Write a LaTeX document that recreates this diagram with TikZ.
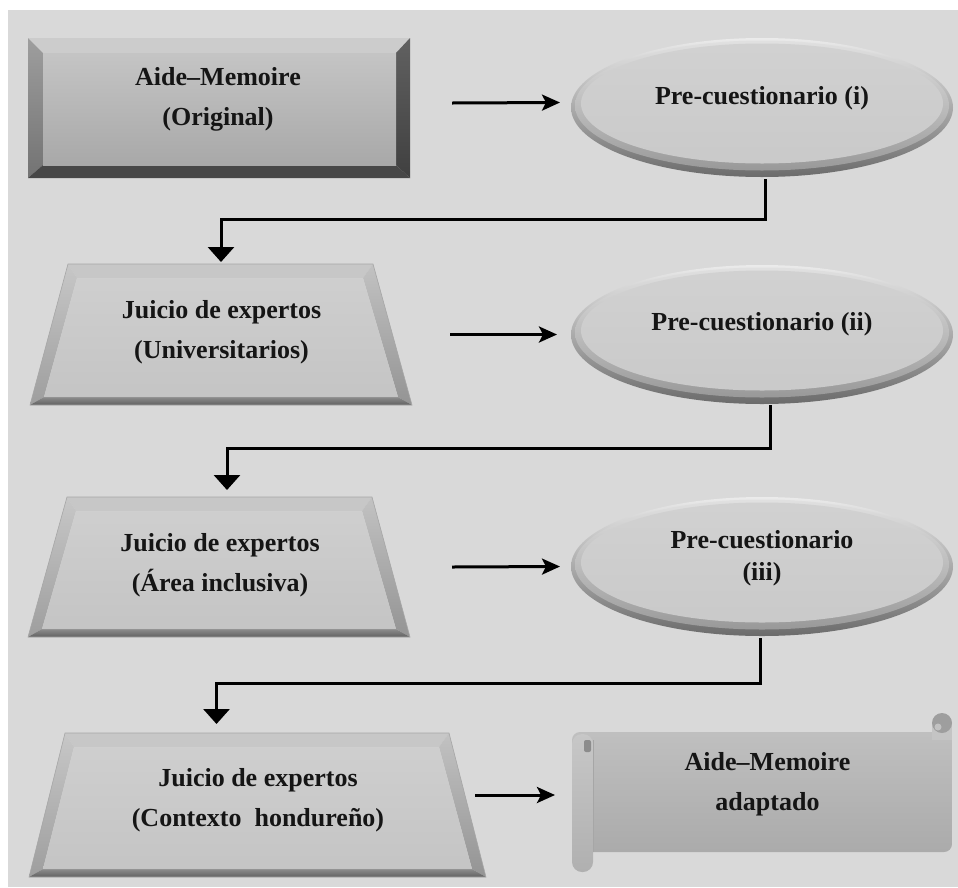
\documentclass[tikz,border=0pt]{standalone}
\usepackage{fontspec}
\setmainfont{Liberation Serif}
\usetikzlibrary{shapes.geometric,arrows.meta,calc}

\definecolor{panel}{HTML}{D9D9D9}
\definecolor{inktext}{HTML}{151515}

% Bevelled trapezoid: #1 top-left x, #2 top-right x, #3 bottom-left x,
% #4 bottom-right x, #5 top y, #6 bottom y
\newcommand\trapbevel[6]{%
  \coordinate (otl) at (#1,#5); \coordinate (otr) at (#2,#5);
  \coordinate (obl) at (#3,#6); \coordinate (obr) at (#4,#6);
  \coordinate (itl) at ($(otl)+(9,14)$); \coordinate (itr) at ($(otr)+(-10,14)$);
  \coordinate (ibl) at ($(obl)+(14,-8)$); \coordinate (ibr) at ($(obr)+(-14,-8)$);
  \fill[gray!30!white!80!gray] (otl) -- (otr) -- (itr) -- (itl) -- cycle;
  \shade[top color=black!22, bottom color=black!38] (otl) -- (itl) -- (ibl) -- (obl) -- cycle;
  \shade[top color=black!24, bottom color=black!42] (otr) -- (itr) -- (ibr) -- (obr) -- cycle;
  \shade[top color=black!45, bottom color=black!62] (obl) -- (ibl) -- (ibr) -- (obr) -- cycle;
  \shade[top color=black!19, bottom color=black!23] (itl) -- (itr) -- (ibr) -- (ibl) -- cycle;
  \draw[black!35, line width=0.6pt] (otl) -- (otr) -- (obr) -- (obl) -- cycle;
}

% Domed ellipse centred at (#1,#2)
\newcommand\domeellipse[2]{%
  \shade[top color=black!8, middle color=black!24, bottom color=black!58]
    (#1,#2) ellipse [x radius=191, y radius=69.5];
  \shade[top color=black!12, middle color=black!21, bottom color=black!40]
    (#1,#2-2) ellipse [x radius=187, y radius=65];
  \shade[top color=black!18, bottom color=black!21]
    (#1,#2-4) ellipse [x radius=181, y radius=60];
}

\begin{document}
\begin{tikzpicture}[x=1pt, y=-1pt,
  shapenode/.style={draw=none, fill=none, inner sep=0pt, outer sep=0pt},
  boxnode/.style={shapenode, rectangle, minimum width=382pt, minimum height=140pt},
  ellnode/.style={shapenode, ellipse, minimum width=382pt, minimum height=139pt},
  txt/.style={font=\fontsize{26}{40}\selectfont\bfseries, align=center, text=inktext, inner sep=0pt},
  hflow/.style={line width=3pt, -{Stealth[length=18pt, width=16pt, inset=4pt]}},
  vlink/.style={line width=3pt, -{Triangle[length=15pt, width=26pt]}}
]
\useasboundingbox (0,0) rectangle (958,887);
\fill[white] (0,0) rectangle (958,887);
\fill[panel] (8,10) rectangle (958,887);

% ---- bevelled rectangle
\fill[black!20] (28,38) -- (410,38) -- (396,53) -- (43,53) -- cycle;
\shade[top color=black!38, bottom color=black!55] (28,38) -- (43,53) -- (43,165) -- (28,178) -- cycle;
\shade[top color=black!62, bottom color=black!75] (410,38) -- (396,53) -- (396,165) -- (410,178) -- cycle;
\fill[black!72] (28,178) -- (43,165) -- (396,165) -- (410,178) -- cycle;
\shade[top color=black!23, bottom color=black!34] (43,53) rectangle (396,165);

% ---- trapezoids
\trapbevel{68}{373}{30}{412}{264}{405}
\trapbevel{67}{372}{28}{410}{497}{637}
\trapbevel{65}{449}{29}{486}{733}{877}

% ---- ellipses
\domeellipse{762}{107.5}
\domeellipse{762}{334.5}
\domeellipse{762}{566.5}

% ---- scroll
\shade[top color=black!25, bottom color=black!33, rounded corners=8pt] (572,732) rectangle (952,852);
\fill[black!23] (932,723) rectangle (952,740);
\fill[black!38] (942,723) circle (10);
\fill[black!24] (938,727) circle (3.5);
\shade[top color=black!22, bottom color=black!31, rounded corners=10pt] (572,734) rectangle (593,872);
\draw[black!35, line width=0.6pt] (593,740) -- (593,852);
\fill[black!45, rounded corners=2pt] (584,740) rectangle (591,752);

% ---- shape nodes
\node[boxnode] (b1) at (219,108) {};
\node[boxnode, minimum width=382pt, minimum height=141pt] (t2) at (221,334.5) {};
\node[boxnode, minimum width=382pt, minimum height=140pt] (t3) at (219,567) {};
\node[boxnode, minimum width=457pt, minimum height=144pt] (t4) at (257.5,805) {};
\node[ellnode] (e1) at (762,107.5) {};
\node[ellnode] (e2) at (762,334.5) {};
\node[ellnode] (e3) at (762,566.5) {};
\node[boxnode, minimum width=380pt, minimum height=159pt] (s) at (762,792.5) {};

% ---- texts
\node[txt] (b1t) at (218,99) {Aide–Memoire\\(Original)};
\node[txt] (t2t) at (221.5,332.5) {Juicio de expertos\\(Universitarios)};
\node[txt] (t3t) at (220,565) {Juicio de expertos\\(Área inclusiva)};
\node[txt] (t4t) at (258,800.5) {Juicio de expertos\\(Contexto\ \ hondureño)};
\node[txt] (e1t) at (762,98) {Pre-cuestionario (i)};
\node[txt] (e2t) at (762,324) {Pre-cuestionario (ii)};
\node[txt] (e3t) at (762,558) {Pre-cuestionario\\[-8pt](iii)};
\node[txt] (st) at (767.5,784.5) {Aide–Memoire\\adaptado};

% ---- horizontal arrows
\draw[hflow] ([xshift=42pt, yshift=5pt]b1.east) -- ([xshift=-11pt, yshift=5pt]e1.west);
\draw[hflow] ([xshift=38pt]t2.east) -- ([xshift=-14pt]e2.west);
\draw[hflow] ([xshift=42pt]t3.east) -- ([xshift=-11pt]e3.west);
\draw[hflow] ([xshift=-11pt, yshift=10pt]t4.east) -- ([xshift=-17pt, yshift=-2.5pt]s.west);

% ---- elbow connectors
\draw[vlink] ([xshift=3pt, yshift=-2pt]e1.south) -- ++(0,40) -| ([yshift=2pt]t2.north);
\draw[vlink] ([xshift=8pt, yshift=-1pt]e2.south) -- ++(0,43) -| ([xshift=8pt, yshift=7pt]t3.north);
\draw[vlink] ([xshift=-2pt, yshift=-2pt]e3.south) -- ++(0,45) -| ([xshift=-41pt, yshift=9pt]t4.north);
\end{tikzpicture}
\end{document}
